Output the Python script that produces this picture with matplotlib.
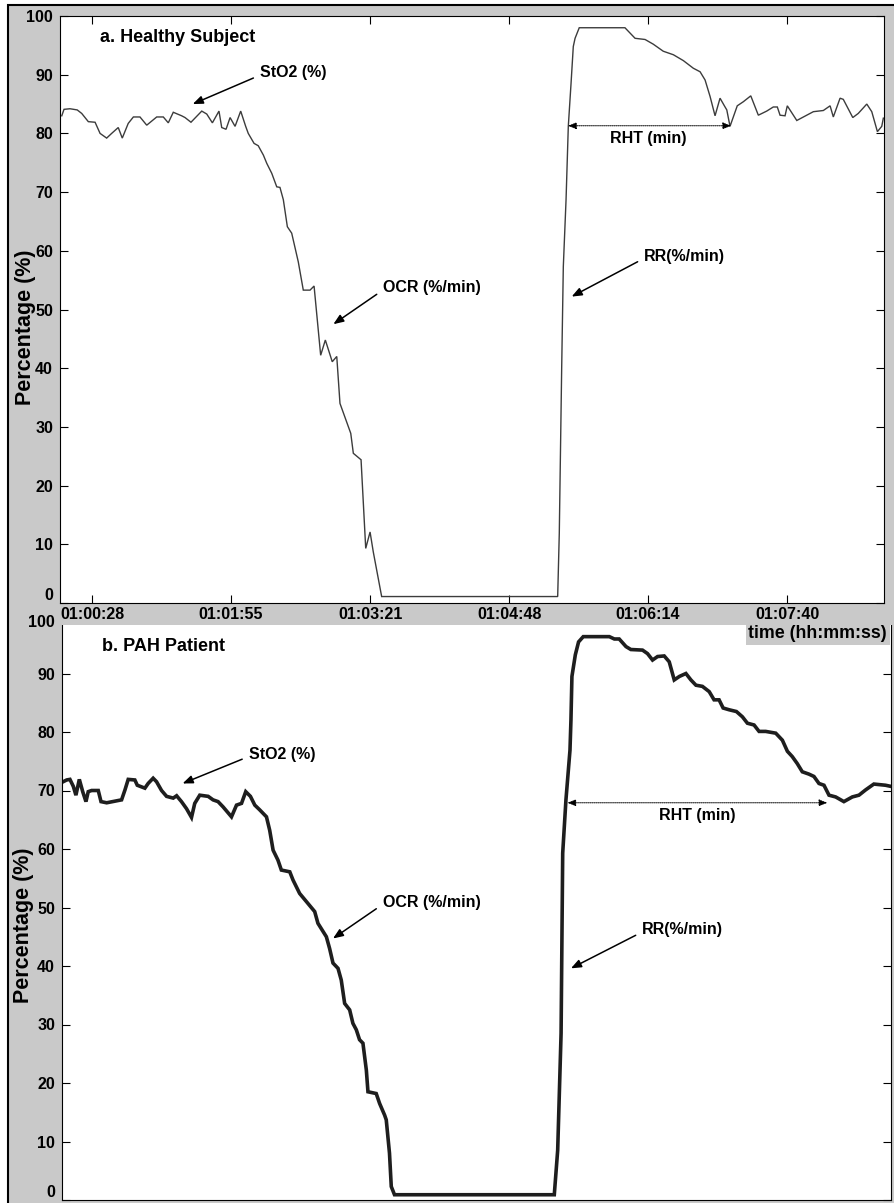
import matplotlib.pyplot as plt
from matplotlib.patches import Rectangle

# time in seconds after 01:00:00, values in %
time_a = [10.0, 11.4, 15.1, 19.6, 22.4, 26.5, 30.7, 33.8, 37.9, 41.0,
          45.1, 47.6, 51.3, 54.5, 58.6, 62.8, 69.0, 73.1, 76.2, 79.3,
          84.5, 86.6, 90.3, 97.0, 100.1, 103.6, 107.7, 109.4, 112.1, 114.6,
          117.7, 121.2, 124.3, 125.9, 129.5, 132.1, 135.3, 137.4, 140.5, 143.6,
          145.6, 147.7, 150.2, 152.9, 157.0, 160.1, 164.3, 166.8, 170.9, 173.8,
          178.1, 180.9, 182.9, 189.6, 191.2, 196.0, 198.9, 201.6, 203.6, 208.8,
          318.2, 319.2, 320.7, 321.7, 323.4, 324.8, 326.5, 327.9, 329.0, 331.6,
          360.0, 366.3, 372.5, 377.6, 383.8, 390.1, 396.3, 402.5, 406.7, 409.8,
          412.9, 416.0, 419.1, 421.8, 423.3, 425.3, 429.8, 433.6, 438.2, 442.9,
          448.1, 452.2, 454.7, 456.4, 459.5, 460.9, 466.8, 477.1, 483.3, 487.5,
          489.5, 493.7, 495.7, 501.6, 505.0, 510.3, 513.4, 516.9, 519.6, 520.6]
sto2_a = [83.0, 84.1, 84.2, 84.0, 83.4, 82.0, 81.9, 80.0, 79.2, 80.0,
          81.0, 79.2, 81.7, 82.8, 82.8, 81.4, 82.8, 82.8, 81.8, 83.6,
          83.0, 82.7, 81.9, 83.8, 83.3, 81.8, 83.8, 81.0, 80.7, 82.7,
          81.2, 83.8, 81.2, 80.0, 78.3, 77.9, 76.3, 74.9, 73.2, 70.9,
          70.8, 68.7, 64.1, 63.0, 58.1, 53.3, 53.3, 54.0, 42.2, 44.8,
          41.1, 42.0, 34.0, 28.9, 25.5, 24.4, 9.3, 12.1, 8.7, 1.1,
          1.1, 11.9, 40.3, 57.3, 68.7, 81.2, 88.5, 94.8, 96.2, 98.0,
          98.0, 96.2, 96.0, 95.2, 94.0, 93.4, 92.4, 91.1, 90.5, 89.1,
          86.3, 83.0, 86.0, 84.7, 84.0, 81.2, 84.7, 85.4, 86.4, 83.1,
          83.8, 84.5, 84.5, 83.1, 83.0, 84.7, 82.2, 83.7, 83.9, 84.7,
          82.8, 86.0, 85.8, 82.7, 83.4, 85.0, 83.7, 80.3, 81.2, 82.6]

time_b = [8.9, 11.8, 13.8, 15.9, 17.5, 19.6, 21.7, 23.7, 25.1, 27.2,
          31.3, 33.0, 36.5, 45.7, 47.8, 49.8, 53.9, 55.4, 60.1, 62.1,
          65.2, 67.3, 70.4, 73.5, 77.6, 79.7, 82.7, 85.8, 88.9, 90.9,
          94.0, 99.2, 102.2, 105.3, 108.4, 113.6, 116.7, 119.8, 122.4, 125.3,
          128.0, 131.0, 135.2, 137.2, 139.3, 142.3, 144.4, 149.6, 151.6, 155.7,
          159.9, 165.0, 167.0, 172.2, 174.2, 176.3, 179.4, 181.4, 183.5, 186.6,
          188.6, 190.7, 192.7, 194.8, 196.9, 197.9, 203.0, 205.1, 208.2, 209.2,
          211.2, 212.3, 214.3, 313.0, 315.1, 317.2, 318.2, 320.2, 322.7, 323.3,
          323.9, 326.0, 328.0, 330.9, 347.0, 350.1, 353.1, 357.3, 360.3, 367.5,
          370.6, 373.7, 376.8, 380.9, 384.0, 387.1, 390.3, 394.3, 397.4, 400.5,
          404.5, 408.7, 411.7, 414.8, 417.3, 421.0, 425.5, 429.2, 432.3, 436.4,
          439.5, 443.6, 449.8, 453.9, 457.0, 460.0, 463.1, 466.2, 470.3, 473.4,
          476.5, 479.6, 482.7, 486.8, 491.9, 497.1, 501.2, 505.3, 510.4, 517.6,
          521.0]
sto2_b = [71.4, 71.8, 71.9, 70.7, 69.2, 71.9, 69.8, 68.1, 69.8, 70.0,
          70.0, 68.1, 67.9, 68.4, 70.1, 71.9, 71.8, 70.9, 70.4, 71.2,
          72.1, 71.5, 70.0, 69.0, 68.7, 69.1, 68.1, 66.9, 65.4, 67.8,
          69.2, 69.0, 68.4, 68.1, 67.2, 65.5, 67.5, 67.8, 69.8, 69.0,
          67.5, 66.7, 65.5, 63.2, 59.8, 58.1, 56.4, 56.1, 54.7, 52.4,
          51.0, 49.3, 47.3, 45.0, 43.0, 40.5, 39.6, 37.6, 33.6, 32.5,
          30.2, 29.1, 27.4, 26.8, 22.2, 18.5, 18.2, 16.5, 14.5, 13.7,
          8.0, 2.3, 0.9, 0.9, 8.5, 28.5, 59.3, 68.4, 76.9, 82.1,
          89.5, 93.2, 95.4, 96.3, 96.3, 95.9, 95.9, 94.6, 94.1, 94.0,
          93.4, 92.3, 92.9, 93.0, 92.0, 88.9, 89.5, 90.0, 88.9, 88.0,
          87.8, 86.9, 85.5, 85.5, 84.1, 83.8, 83.5, 82.6, 81.5, 81.2,
          80.1, 80.1, 79.8, 78.6, 76.7, 75.8, 74.6, 73.2, 72.8, 72.4,
          71.2, 70.9, 69.2, 68.9, 68.1, 68.9, 69.2, 70.1, 71.1, 70.9,
          70.7]

tick_secs = [28.8, 115.2, 201.6, 288.0, 374.4, 460.8]
tick_labels = ['01:00:28', '01:01:55', '01:03:21', '01:04:48', '01:06:14', '01:07:40']
x_range = (8.9, 521.0)

# annotation anchors: (text x, text y, arrow head x, arrow head y)
notes_a = {'StO2 (%)': (133.2, 90.3, 91.4, 85.0),
           'OCR (%/min)': (209.6, 53.7, 178.8, 47.5),
           'RR(%/min)': (371.9, 59.1, 326.9, 52.2)}
notes_b = {'StO2 (%)': (124.3, 76.2, 83.4, 71.2),
           'OCR (%/min)': (206.9, 50.9, 176.3, 44.7),
           'RR(%/min)': (367.3, 46.2, 323.3, 39.6)}
rht_a = (324.6, 426.0, 81.3, 374.6, 79.2)
rht_b = (321.1, 481.7, 67.9, 401.2, 65.8)

GRAY = '#c9c9c9'
W, H = 894, 1203

plt.rcParams['font.family'] = ['Liberation Sans', 'DejaVu Sans']
plt.rcParams['font.weight'] = 'bold'

fig = plt.figure(figsize=(W / 100, H / 100), dpi=100)
fig.patch.set_facecolor('white')
fig.patches.append(Rectangle((8 / W, -0.01), 1.05, (H - 5) / H + 0.01,
                             transform=fig.transFigure, facecolor=GRAY,
                             edgecolor='black', lw=1.5, zorder=-5))


def box(l, t, r, b):
    return [l / W, 1 - b / H, (r - l) / W, (b - t) / H]


def panel(ax, t, v, lw, color, title, title_pos, notes, rht):
    ax.plot(t, v, color=color, lw=lw, solid_joinstyle='miter')
    ax.set_xlim(*x_range)
    ax.set_ylim(0, 100)
    ax.set_yticks(range(0, 101, 10))
    ax.tick_params(direction='in', length=6, width=0.8, labelsize=11.5,
                   top=True, right=True, pad=5)
    for s in ax.spines.values():
        s.set_linewidth(0.8)
    ax.text(title_pos[0], title_pos[1], title, fontsize=13, fontweight='bold',
            ha='left', va='center')
    for label, (tx, ty, hx, hy) in notes.items():
        ax.annotate(label, xy=(hx, hy), xytext=(tx, ty), fontsize=11.5,
                    fontweight='bold', ha='left', va='center',
                    arrowprops=dict(arrowstyle='-|>,head_length=0.55,head_width=0.22',
                                    color='black', lw=1.1, mutation_scale=11,
                                    relpos=(0, 0.35), shrinkA=3, shrinkB=0))
    x0, x1, y, lx, ly = rht
    ax.annotate('', xy=(x1, y), xytext=(x0, y),
                arrowprops=dict(arrowstyle='<|-|>,head_length=0.5,head_width=0.2',
                                color='black', lw=0.7, ls=(0, (1, 1)),
                                mutation_scale=10, shrinkA=0, shrinkB=0))
    ax.text(lx, ly, 'RHT (min)', fontsize=11.5, fontweight='bold',
            ha='center', va='center')


ax_b = fig.add_axes(box(62, 615, 891, 1200), zorder=0)
panel(ax_b, time_b, sto2_b, 2.6, '#1e1e1e', 'b. PAH Patient', (33.6, 94.7),
      notes_b, rht_b)
ax_b.set_xticks([])
ylabels_b = ax_b.get_yticklabels()
ylabels_b[-1].set_va('top')
ylabels_b[0].set_va('bottom')

# gray strip between the two panels hides the top of panel b
fig.patches.append(Rectangle((60 / W, 1 - 625 / H), 1, 22 / H,
                             transform=fig.transFigure, facecolor=GRAY,
                             edgecolor='none', zorder=1))

ax_a = fig.add_axes(box(60, 16, 884, 603), zorder=2)
panel(ax_a, time_a, sto2_a, 1.0, '#3c3c3c', 'a. Healthy Subject', (33.8, 96.4),
      notes_a, rht_a)
ax_a.set_xticks(tick_secs)
ax_a.set_xticklabels(tick_labels)
ax_a.tick_params(axis='x', pad=3)
ax_a.get_yticklabels()[0].set_va('bottom')

fig.text(26 / W, 1 - 327 / H, 'Percentage (%)', rotation=90, fontsize=15.5,
         fontweight='bold', ha='center', va='center')
fig.text(24 / W, 1 - 925 / H, 'Percentage (%)', rotation=90, fontsize=15.5,
         fontweight='bold', ha='center', va='center')
fig.text(887 / W, 1 - 634 / H, 'time (hh:mm:ss)', fontsize=12.8,
         fontweight='bold', ha='right', va='center', zorder=5,
         bbox=dict(facecolor=GRAY, edgecolor='none', pad=2))

fig.savefig('out.png', dpi=100)
